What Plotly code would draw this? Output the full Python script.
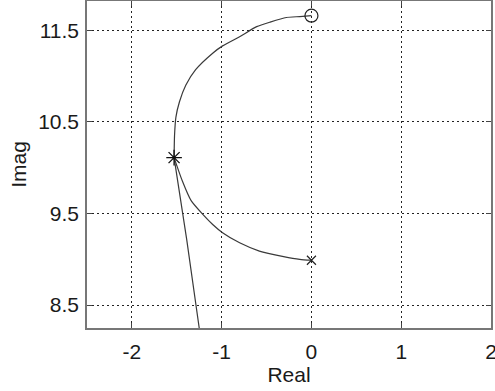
import plotly.graph_objects as go

# Root locus branches
branch_upper_x = [-1.53, -1.525, -1.51, -1.47, -1.40, -1.29, -1.10, -0.99, -0.80, -0.61, -0.46, -0.28, -0.13, 0.0]
branch_upper_y = [10.11, 10.35, 10.55, 10.72, 10.90, 11.07, 11.25, 11.33, 11.43, 11.54, 11.59, 11.64, 11.65, 11.66]

branch_lower_x = [0.0, -0.13, -0.31, -0.58, -0.80, -0.99, -1.10, -1.21, -1.34, -1.44, -1.53]
branch_lower_y = [8.99, 9.00, 9.03, 9.09, 9.18, 9.29, 9.38, 9.49, 9.64, 9.86, 10.11]

branch_line_x = [-1.53, -1.39, -1.25, -1.20]
branch_line_y = [10.11, 9.22, 8.25, 7.90]

zero_x, zero_y = [0.0], [11.66]
pole_x, pole_y = [0.0], [8.99]
star_x, star_y = [-1.53], [10.11]

x_ticks = [-2, -1, 0, 1, 2]
y_ticks = [8.5, 9.5, 10.5, 11.5]

line_col = "#3a3a3a"
font_fam = "Liberation Sans, Arial"
fig = go.Figure()
for xs, ys, shp in [(branch_upper_x, branch_upper_y, "spline"), (branch_lower_x, branch_lower_y, "spline"),
                    (branch_line_x, branch_line_y, "linear")]:
    fig.add_trace(go.Scatter(x=xs, y=ys, mode="lines", line=dict(color=line_col, width=1.2, shape=shp, smoothing=0.6),
                             showlegend=False, hoverinfo="skip"))
fig.add_trace(go.Scatter(x=zero_x, y=zero_y, mode="markers",
                         marker=dict(symbol="circle-open", size=13, color="#222", line=dict(width=1.2)),
                         showlegend=False))
fig.add_trace(go.Scatter(x=pole_x, y=pole_y, mode="markers",
                         marker=dict(symbol="x-thin-open", size=9, color="#222", line=dict(width=1.2)),
                         showlegend=False))
fig.add_trace(go.Scatter(x=star_x, y=star_y, mode="markers",
                         marker=dict(symbol="asterisk-open", size=13, color="#111", line=dict(width=1.3)),
                         showlegend=False))

axis_common = dict(
    showgrid=True, gridcolor="#222", gridwidth=1, griddash="2px,3px",
    showline=True, linecolor="#777", linewidth=1.5, mirror="allticks",
    ticks="inside", ticklen=5, tickcolor="#444", tickwidth=1,
    zeroline=False, automargin=False, ticklabeloverflow="allow",
    tickfont=dict(family=font_fam, size=21, color="#1a1a1a"),
)
fig.update_xaxes(range=[-2.5, 2.0], tickvals=x_ticks, ticktext=[str(v) for v in x_ticks],
                 ticklabelstandoff=4,
                 title=dict(text="Real", font=dict(family=font_fam, size=21, color="#1a1a1a"), standoff=4),
                 **axis_common)
fig.update_yaxes(range=[8.25, 11.82], tickvals=y_ticks, ticktext=[str(v) for v in y_ticks],
                 ticklabelstandoff=2,
                 title=dict(text="Imag", font=dict(family=font_fam, size=21, color="#1a1a1a"), standoff=6),
                 **axis_common)
fig.update_layout(width=495, height=391, margin=dict(l=87, r=4, t=1, b=63),
                  plot_bgcolor="white", paper_bgcolor="white")
fig.write_html("out.html", config={"displayModeBar": False},
               post_script="document.body.style.margin='0px';document.body.style.padding='0px';")
